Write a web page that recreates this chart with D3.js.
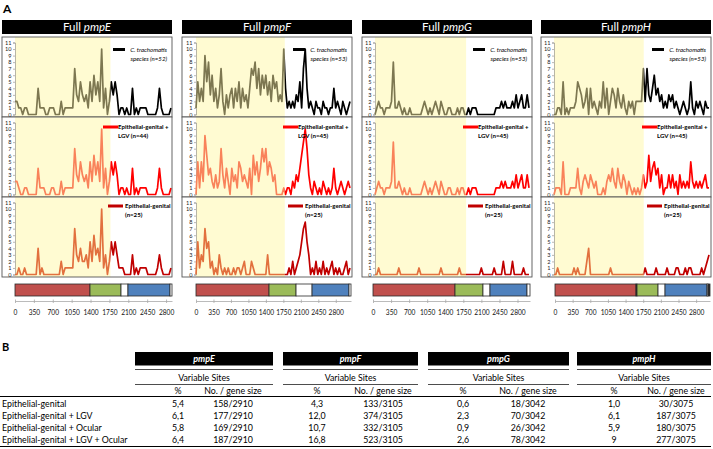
<!DOCTYPE html>
<html><head><meta charset="utf-8">
<script src="https://cdn.jsdelivr.net/npm/d3@7"></script>
<style>body{margin:0;background:#fff}svg{display:block}text{font-family:Lato,"Open Sans",sans-serif}</style>
</head><body><svg id="c" width="713" height="449"></svg>
<script>
// ---------- DATA ----------
const genes = ["pmpE", "pmpF", "pmpG", "pmpH"];
const geneSizes = [2910, 3105, 3042, 3075];
const yellowEnd = [1780, 1790, 1800, 1780];
const nAll = [52, 53, 53, 53];
const nLgv = [44, 45, 45, 45];
const nEpi = [25, 25, 25, 25];
const axisTicks = [0, 350, 700, 1050, 1400, 1750, 2100, 2450, 2800];
const yTicks = [0,1,2,3,4,5,6,7,8,9,10,11];

const pmpE_all = [2,2,1,1,0,1,1,0,0,0,0,0,4,1,1,1,0,0,1,1,1,0,0,0,2,0,1,1,1,1,1,7,3,2,5,3,2,3,1,5,2,6,3,5,2,10,1,4,0,2,5,3,5,3,0,1,1,0,1,0,0,4,0,1,0,1,1,1,1,0,0,0,0,0,1,4,1,0,0,0,0,1];
const pmpE_lgv = [2,2,1,0,0,1,1,0,0,0,0,0,4,1,1,1,0,0,0,1,1,0,0,0,2,0,1,1,1,1,1,7,3,2,5,3,2,3,1,5,2,6,3,5,2,10,1,4,0,2,5,3,5,3,0,1,1,0,1,0,0,4,0,1,0,1,1,1,1,0,0,0,0,0,1,4,1,0,0,0,0,1];
const pmpE_epi = [0,0,1,0,0,1,0,0,0,0,0,0,4,0,1,0,0,0,0,0,0,0,0,0,2,0,1,1,1,1,1,7,3,2,4,2,2,3,1,5,2,6,3,4,2,10,1,3,0,2,5,3,5,3,1,1,1,0,0,0,0,3,0,1,0,1,1,1,1,0,0,0,0,0,1,3,1,0,0,0,0,1];

const pmpF_all = [1,5,2,4,2,9,5,8,3,6,2,4,1,3,7,2,0,3,1,3,4,1,4,2,5,1,4,2,3,1,4,7,6,8,4,7,3,6,4,6,3,5,2,6,4,5,2,3,2,10,4,1,2,1,2,1,3,2,5,1,7,10,4,1,2,1,0,2,1,1,0,2,1,1,0,1,1,4,1,2,1,0,2,1,0,1,2];
const pmpF_lgv = [0,5,1,5,2,9,6,3,4,2,1,3,1,2,7,3,1,4,2,0,4,2,3,1,5,4,2,3,2,1,4,0,6,3,5,2,4,7,5,7,3,5,4,2,3,0,0,0,0,1,0,1,1,0,2,1,3,2,4,6,8,10,7,3,1,0,2,1,0,1,0,2,1,0,1,0,1,4,1,0,1,2,1,0,1,2,1];
const pmpF_epi = [0,5,1,3,2,7,4,5,1,2,0,1,0,3,1,0,1,0,1,0,0,1,0,1,1,0,1,2,0,0,0,2,1,0,0,0,0,0,0,0,3,0,0,0,0,0,0,0,0,0,0,0,1,0,2,0,1,2,3,5,7,8,5,3,0,1,0,2,0,1,0,2,0,1,0,1,2,0,1,0,1,0,0,1,2,0,1];

const pmpG_all = [0,1,2,1,1,0,1,1,1,2,8,1,1,2,1,0,1,0,0,1,0,0,0,0,0,0,1,2,1,0,1,0,1,2,1,0,2,1,0,0,1,1,0,0,0,1,0,1,1,0,0,1,0,1,1,1,0,0,0,0,0,0,0,0,0,0,1,1,1,2,1,2,1,1,1,2,1,3,1,2,3,1,1,3,1];
const pmpG_lgv = [0,1,2,1,1,0,1,1,1,2,8,1,1,2,1,0,1,0,0,1,0,0,0,0,0,0,1,2,1,0,1,0,1,2,1,0,2,1,0,0,1,1,0,0,0,1,0,1,1,0,0,1,0,1,1,1,0,0,0,0,0,0,0,0,0,0,1,1,1,2,1,2,1,1,1,2,1,3,1,2,3,1,1,3,1];
const pmpG_epi = [0,0,1,0,0,0,0,0,0,0,0,0,0,1,0,0,0,0,0,0,0,0,0,0,1,0,0,0,0,0,0,0,0,0,0,0,1,0,0,0,0,0,0,0,0,0,1,0,0,0,0,0,0,0,0,0,0,0,1,0,0,0,0,0,0,1,0,0,0,0,2,0,0,0,0,2,0,0,0,0,0,1,0,0,0];

const pmpH_all = [0,0,1,1,0,5,0,1,0,1,1,1,2,5,4,3,1,2,4,0,4,1,2,1,0,2,1,5,1,4,0,2,4,3,1,4,2,1,3,1,0,2,1,2,0,2,2,2,2,7,2,7,3,2,4,6,3,4,2,3,1,2,1,3,2,3,1,2,1,0,1,2,1,0,1,5,1,0,2,1,2,1,0,2,1,1];
const pmpH_lgv = [0,1,1,1,0,5,0,0,0,1,1,1,1,4,1,0,2,3,2,1,3,2,1,2,0,0,0,1,0,2,3,2,4,2,1,4,2,1,3,2,0,2,1,0,1,0,1,0,1,3,1,2,6,2,4,5,3,4,1,3,0,1,1,3,1,3,1,2,0,3,1,2,1,2,1,5,2,1,2,1,2,1,2,3,1,1];
const pmpH_epi = [0,0,1,0,0,0,0,0,0,0,0,1,0,1,0,0,0,0,2,4,0,0,0,0,0,0,0,0,0,0,0,1,0,0,0,0,0,0,0,0,0,0,0,0,0,0,0,0,0,0,1,0,0,0,0,0,1,0,0,0,0,0,1,0,0,0,0,1,1,0,0,0,1,0,1,1,0,0,0,0,0,1,0,1,2,3];

// gene domain segments [start bp, end bp, domain]
const pmpE_domains = [[0,1390,"r"],[1390,1965,"g"],[1965,2094,"w"],[2094,2873,"b"],[2873,2910,"w"]];
const pmpF_domains = [[0,1463,"r"],[1463,2004,"g"],[2004,2325,"w"],[2325,3065,"b"],[3065,3105,"w"]];
const pmpG_domains = [[0,1589,"r"],[1589,2131,"g"],[2131,2267,"w"],[2267,2984,"b"],[2984,3042,"w"]];
const pmpH_domains = [[0,1607,"r"],[1607,1627,"k"],[1627,2044,"g"],[2044,2183,"w"],[2183,3016,"b"],[3016,3036,"w"],[3036,3075,"k"]];

// table
const tableRows = ["Epithelial-genital", "Epithelial-genital + LGV", "Epithelial-genital + Ocular", "Epithelial-genital + LGV + Ocular"];
const pctE = ["5,4","6,1","5,8","6,4"], cntE = ["158/2910","177/2910","169/2910","187/2910"];
const pctF = ["4,3","12,0","10,7","16,8"], cntF = ["133/3105","374/3105","332/3105","523/3105"];
const pctG = ["0,6","2,3","0,9","2,6"], cntG = ["18/3042","70/3042","26/3042","78/3042"];
const pctH = ["1,0","6,1","5,9","9"], cntH = ["30/3075","187/3075","180/3075","277/3075"];

// ---------- LAYOUT / STYLE ----------
const series = [[pmpE_all,pmpE_lgv,pmpE_epi],[pmpF_all,pmpF_lgv,pmpF_epi],[pmpG_all,pmpG_lgv,pmpG_epi],[pmpH_all,pmpH_lgv,pmpH_epi]];
const domains = [pmpE_domains, pmpF_domains, pmpG_domains, pmpH_domains];
const domColor = {r:"#c0504d", g:"#9bbb59", b:"#4f81bd", w:"#ffffff", k:"#2a2a2a"};
const inColor = ["#7d7751", "#f9825a", "#e2703e"];
const outColor = ["#000000", "#ff0000", "#c00000"];
const panelLeft = [2, 182, 362, 541], panelW = 170;
const dataL = [15, 196, 375, 554], dataR = [171, 350, 529, 709];
const axisL = [15, 196, 373, 555], axisR = [172, 351, 530, 710];
const subTop = [37, 117, 197], subH = 80;

const svg = d3.select("#c");
const defs = svg.append("defs");
svg.append("text").attr("x", 3).attr("y", 13).text("A").style("font-weight", "bold").style("font-size", "12px");

genes.forEach((g, gi) => {
  const L = panelLeft[gi], R = L + panelW;
  const gp = svg.append("g");
  gp.append("rect").attr("x", L).attr("y", 20).attr("width", panelW).attr("height", 14).attr("fill", "#000");
  const ht = gp.append("text").attr("x", L + panelW / 2).attr("y", 31).attr("text-anchor", "middle")
    .attr("fill", "#fff").style("font-size", "11.5px");
  ht.append("tspan").text("Full ");
  ht.append("tspan").style("font-style", "italic").text(g);

  const x = d3.scaleLinear().domain([0, geneSizes[gi]]).range([dataL[gi], dataR[gi]]);
  const xe = x(yellowEnd[gi]);
  defs.append("clipPath").attr("id", "in" + gi).append("rect")
    .attr("x", dataL[gi] - 2).attr("y", 30).attr("width", xe - dataL[gi] + 2).attr("height", 260);
  defs.append("clipPath").attr("id", "out" + gi).append("rect")
    .attr("x", xe).attr("y", 30).attr("width", R - xe).attr("height", 260);

  series[gi].forEach((vals, si) => {
    const top = subTop[si];
    const y = d3.scaleLinear().domain([0, 11]).range([top + 77.5, top + 5.5]);
    gp.append("rect").attr("x", L).attr("y", top).attr("width", panelW).attr("height", subH).attr("fill", "#fff");
    gp.append("rect").attr("x", dataL[gi]).attr("y", top).attr("width", xe - dataL[gi]).attr("height", subH).attr("fill", "#fffbd2");
    const ay = gp.append("g").attr("transform", `translate(${dataL[gi]},0)`)
      .call(d3.axisLeft(y).tickValues(yTicks).tickSize(2).tickPadding(1.5));
    ay.select(".domain").attr("stroke", "#888").attr("stroke-width", 0.6);
    ay.selectAll(".tick line").attr("stroke", "#888").attr("stroke-width", 0.6);
    ay.selectAll(".tick text").style("font-size", "5.6px").style("font-family", "Lato, sans-serif").attr("fill", "#222");

    const step = geneSizes[gi] / (vals.length - 1);
    const line = d3.line().x((d, i) => x(i * step)).y(d => y(d));
    gp.append("path").datum(vals).attr("d", line).attr("fill", "none").attr("stroke", inColor[si])
      .attr("stroke-width", 1.7).attr("stroke-linejoin", "round").attr("clip-path", `url(#in${gi})`);
    gp.append("path").datum(vals).attr("d", line).attr("fill", "none").attr("stroke", outColor[si])
      .attr("stroke-width", 1.7).attr("stroke-linejoin", "round").attr("clip-path", `url(#out${gi})`);
    gp.append("rect").attr("x", L).attr("y", top).attr("width", panelW).attr("height", subH)
      .attr("fill", "none").attr("stroke", "#555").attr("stroke-width", 0.9);

    // legend
    const lg = gp.append("g").style("font-size", "6.1px");
    if (si === 0) {
      lg.append("line").attr("x1", R - 59).attr("x2", R - 47).attr("y1", top + 12.5).attr("y2", top + 12.5)
        .attr("stroke", outColor[0]).attr("stroke-width", 3);
      lg.append("text").attr("x", R - 5).attr("y", top + 14.5).attr("text-anchor", "end").style("font-style", "italic").text("C. trachomatis");
      lg.append("text").attr("x", R - 5).attr("y", top + 23.5).attr("text-anchor", "end").style("font-style", "italic").text(`species (n=${nAll[gi]})`);
    } else if (si === 1) {
      lg.append("line").attr("x1", R - 69).attr("x2", R - 54).attr("y1", top + 10).attr("y2", top + 10)
        .attr("stroke", outColor[1]).attr("stroke-width", 3);
      lg.append("text").attr("x", R - 54).attr("y", top + 12).style("font-weight", "bold").text("Epithelial-genital +");
      lg.append("text").attr("x", R - 54).attr("y", top + 21).style("font-weight", "bold").text(`LGV (n=${nLgv[gi]})`);
    } else {
      lg.append("line").attr("x1", R - 64).attr("x2", R - 49).attr("y1", top + 9).attr("y2", top + 9)
        .attr("stroke", outColor[2]).attr("stroke-width", 3);
      lg.append("text").attr("x", R - 47).attr("y", top + 11).style("font-weight", "bold").text("Epithelial-genital");
      lg.append("text").attr("x", R - 47).attr("y", top + 20).style("font-weight", "bold").text(`(n=${nEpi[gi]})`);
    }
  });

  // gene bar + axis
  const xa = d3.scaleLinear().domain([0, geneSizes[gi]]).range([axisL[gi], axisR[gi]]);
  gp.selectAll(".seg").data(domains[gi]).enter().append("rect")
    .attr("x", d => xa(d[0])).attr("y", 284).attr("width", d => xa(d[1]) - xa(d[0])).attr("height", 12)
    .attr("fill", d => domColor[d[2]]).attr("stroke", "#2a2a2a").attr("stroke-width", 0.8);
  const ax = gp.append("g").attr("transform", "translate(0,301)")
    .call(d3.axisBottom(xa).tickValues(axisTicks).tickFormat(d3.format("d")).tickSize(3).tickPadding(6).tickSizeOuter(0));
  ax.select(".domain").attr("stroke", "#aaa").attr("stroke-width", 0.8);
  ax.selectAll(".tick line").attr("stroke", "#aaa").attr("stroke-width", 0.8).attr("y1", -1.5).attr("y2", 2);
  ax.selectAll(".tick text").style("font-size", "6.6px").style("font-family", "Lato, sans-serif").attr("fill", "#111");
});

// ---------- TABLE ----------
svg.append("text").attr("x", 2).attr("y", 351).text("B").style("font-weight", "bold").style("font-size", "11px");
const groups = [
  {g:"pmpE", x0:135, x1:273, pc:178, nc:233, p:pctE, c:cntE},
  {g:"pmpF", x0:283, x1:418, pc:317, nc:383, p:pctF, c:cntF},
  {g:"pmpG", x0:428, x1:569, pc:463, nc:528, p:pctG, c:cntG},
  {g:"pmpH", x0:577, x1:711, pc:614, nc:676, p:pctH, c:cntH}
];
const rowY = [407, 419, 431, 443];
const tb = svg.append("g").style("font-size", "8.8px");
groups.forEach(G => {
  tb.append("rect").attr("x", G.x0).attr("y", 352).attr("width", G.x1 - G.x0).attr("height", 13.5).attr("fill", "#000");
  tb.append("text").attr("x", (G.x0 + G.x1) / 2).attr("y", 362).attr("text-anchor", "middle").attr("fill", "#fff")
    .style("font-weight", "bold").style("font-style", "italic").style("font-size", "9px").text(G.g);
  tb.append("line").attr("x1", G.x0).attr("x2", G.x1).attr("y1", 369.5).attr("y2", 369.5).attr("stroke", "#000").attr("stroke-width", 0.7);
  tb.append("text").attr("x", (G.x0 + G.x1) / 2).attr("y", 381).attr("text-anchor", "middle").text("Variable Sites");
  tb.append("line").attr("x1", G.x0).attr("x2", G.x1).attr("y1", 384.5).attr("y2", 384.5).attr("stroke", "#000").attr("stroke-width", 0.7);
  tb.append("text").attr("x", G.pc).attr("y", 393.5).attr("text-anchor", "middle").text("%");
  tb.append("text").attr("x", G.nc).attr("y", 393.5).attr("text-anchor", "middle").text("No. / gene size");
  G.p.forEach((v, i) => tb.append("text").attr("x", G.pc).attr("y", rowY[i]).attr("text-anchor", "middle").text(v));
  G.c.forEach((v, i) => tb.append("text").attr("x", G.nc).attr("y", rowY[i]).attr("text-anchor", "middle").text(v));
});
tb.append("line").attr("x1", 0).attr("x2", 711).attr("y1", 396.5).attr("y2", 396.5).attr("stroke", "#000").attr("stroke-width", 1.1);
tb.append("line").attr("x1", 0).attr("x2", 711).attr("y1", 446.5).attr("y2", 446.5).attr("stroke", "#000").attr("stroke-width", 1.1);
tableRows.forEach((r, i) => tb.append("text").attr("x", 2).attr("y", rowY[i]).text(r));
</script></body></html>
